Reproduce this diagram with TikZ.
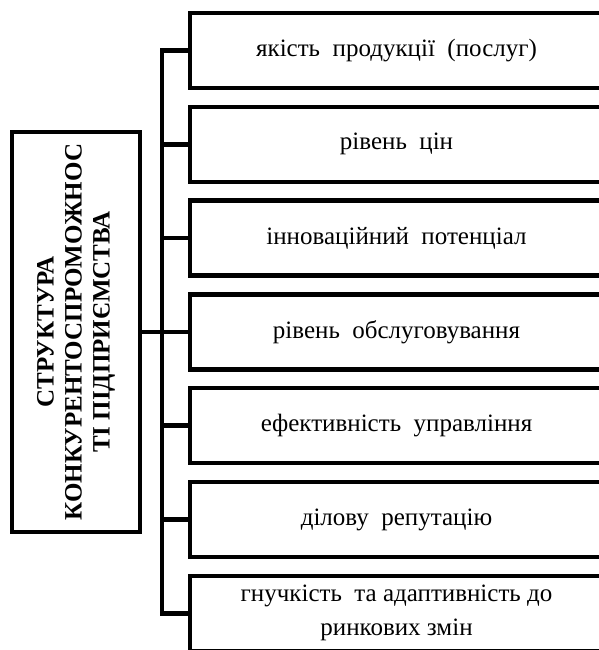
\documentclass[tikz,border=0pt]{standalone}
\usepackage{fontspec}
\setmainfont{Liberation Serif}
\begin{document}
\begin{tikzpicture}[x=1pt,y=-1pt,
  lw/.style={line width=4.5pt},
  itembox/.style={draw, lw, rectangle, minimum width=413pt, minimum height=75pt, inner sep=0pt, align=center, font=\fontsize{25}{34}\selectfont},
  mainbox/.style={draw, lw, rectangle, minimum width=128pt, minimum height=400pt, inner sep=0pt},
  link/.style={lw}]
\useasboundingbox (0,0) rectangle (599,650);
\clip (0,0) rectangle (599,650);
\foreach \i/\t in {1/{якість\ \ продукції\ \ (послуг)},2/{рівень\ \ цін},3/{інноваційний\ \ потенціал},4/{рівень\ \ обслуговування},5/{ефективність\ \ управління},6/{ділову\ \ репутацію},7/{гнучкість\ \ та адаптивність до\\ринкових змін}}{
  \node[itembox] (b\i) at (396.5, {13+93.8*(\i-1)+37.5}) {\t};
}
\node[mainbox] (L) at (76,332) {};
\node[rotate=90, align=center, font=\bfseries\fontsize{25}{28}\selectfont] (Lt) at (L.center) {СТРУКТУРА\\КОНКУРЕНТОСПРОМОЖНОС\\ТІ ПІДПРИЄМСТВА};
\draw[link] (b1.west) -- ++(-26,0) coordinate (ttop) |- (b7.west);
\foreach \i in {2,...,6}{
  \draw[link] (b\i.west) -- ++(-26,0);
}
\draw[link] (L.east) -- (L.east -| ttop);
\end{tikzpicture}
\end{document}
